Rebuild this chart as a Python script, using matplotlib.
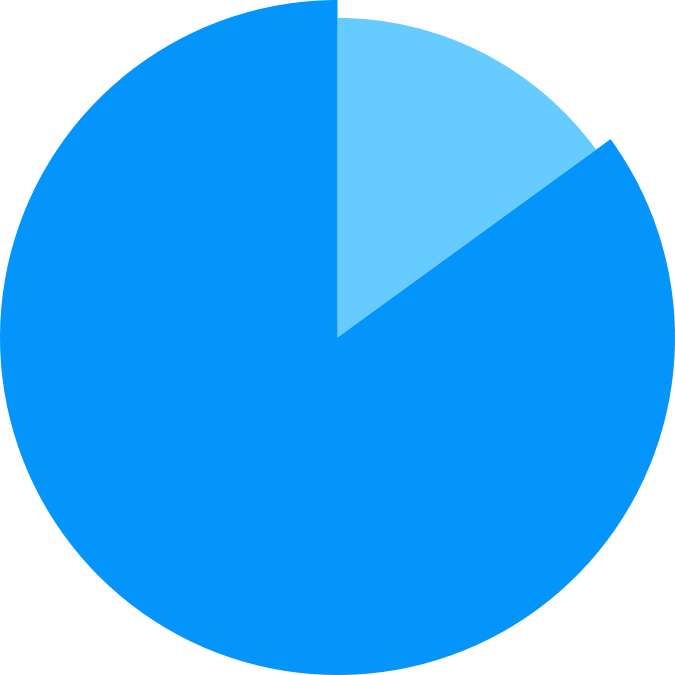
import matplotlib
matplotlib.use('Agg')
import matplotlib.pyplot as plt

# slice values (percent) and colours
labels = ['A', 'B']
values = [15, 85]
colors = ['#66CCFF', '#0394FC']
radii = [0.947, 1.0]  # the light slice is drawn a bit smaller

fig = plt.figure(figsize=(6.75, 6.75), dpi=100)
ax = fig.add_axes([0, 0, 1, 1])

wedges, _ = ax.pie(values, colors=colors, startangle=90, counterclock=False,
                   radius=1.0, wedgeprops={'linewidth': 0})
for w, r in zip(wedges, radii):
    w.set_radius(r)

ax.set_xlim(-1.0, 1.0)
ax.set_ylim(-1.0, 1.0)
ax.set_aspect('equal')
ax.axis('off')

plt.savefig('out.png', dpi=100)
